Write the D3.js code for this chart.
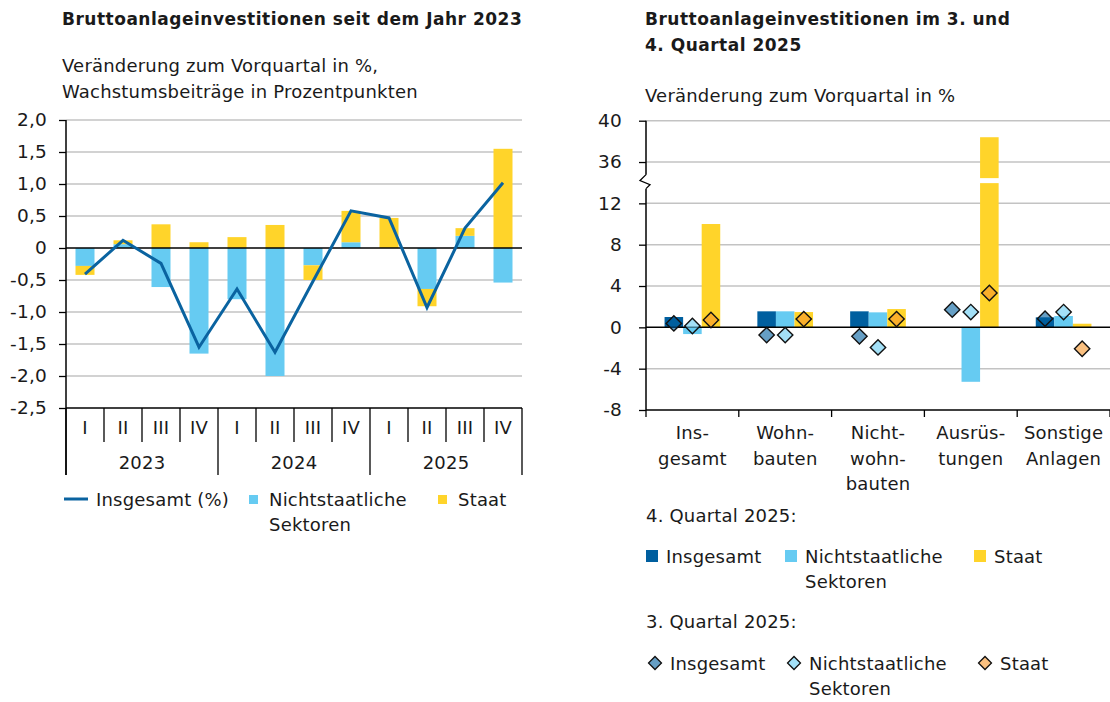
<!DOCTYPE html>
<html>
<head>
<meta charset="utf-8">
<script src="https://cdn.jsdelivr.net/npm/d3@7"></script>
<style>
  body { margin: 0; background: #fff; }
  text { font-family: "DejaVu Sans", sans-serif; fill: #1a1a1a; font-size: 18px; letter-spacing: 0.2px; }
  .title { font-weight: bold; font-size: 17px; letter-spacing: 0.5px; }
</style>
</head>
<body>
<svg id="chart" width="1110" height="702"></svg>
<script>
// ---- left chart: quarters 2023-2025 ----
var quarters = ["I", "II", "III", "IV", "I", "II", "III", "IV", "I", "II", "III", "IV"];
var years = ["2023", "2024", "2025"];
var insgesamt = [-0.41, 0.12, -0.24, -1.55, -0.64, -1.63, -0.52, 0.58, 0.47, -0.93, 0.31, 1.02];
var nichtstaatlich = [-0.28, 0.06, -0.61, -1.65, -0.80, -2.00, -0.27, 0.09, 0.00, -0.64, 0.19, -0.54];
var staat = [-0.14, 0.06, 0.37, 0.09, 0.17, 0.36, -0.23, 0.49, 0.47, -0.27, 0.12, 1.55];
var leftTicks = [-2.5, -2, -1.5, -1, -0.5, 0, 0.5, 1, 1.5, 2];

// ---- right chart: sectors, Q4 bars and Q3 diamonds ----
var sectors = [["Ins-", "gesamt"], ["Wohn-", "bauten"], ["Nicht-", "wohn-", "bauten"], ["Ausrüs-", "tungen"], ["Sonstige", "Anlagen"]];
var q4Insgesamt = [1.0, 1.55, 1.55, 0.0, 0.97];
var q4Nicht = [-0.65, 1.55, 1.45, -5.27, 1.1];
var q4Staat = [10.0, 1.48, 1.77, 38.4, 0.35];
var q3Insgesamt = [0.38, -0.75, -0.87, 1.71, 0.84];
var q3Nicht = [0.13, -0.75, -1.94, 1.48, 1.48];
var q3Staat = [0.71, 0.8, 0.8, 3.32, -2.07];
var rightTicks = [-8, -4, 0, 4, 8, 12, 36, 40];

var darkBlue = "#005f9f", lightBlue = "#66cbf2", yellow = "#ffd42a";
var lineBlue = "#0a63a0", grid = "#c3c3c3";

var svg = d3.select("#chart");

// ================= LEFT =================
var L = { x0: 66, x1: 522, top: 120, bottom: 408 };

var xL = d3.scaleBand()
    .domain(d3.range(quarters.length))
    .range([L.x0, L.x1])
    .paddingInner(0.5)
    .paddingOuter(0.25);
var yL = d3.scaleLinear().domain([-2.5, 2]).range([L.bottom, L.top]);

svg.append("text").attr("class", "title").attr("x", 62).attr("y", 25)
    .text("Bruttoanlageinvestitionen seit dem Jahr 2023");
svg.append("text").attr("x", 62).attr("y", 72).text("Veränderung zum Vorquartal in %,");
svg.append("text").attr("x", 62).attr("y", 98).text("Wachstumsbeiträge in Prozentpunkten");

var gl = svg.append("g");
gl.selectAll(".grid")
    .data(leftTicks.filter(function (d) { return d != 0 && d != -2.5; }))
    .enter().append("line")
    .attr("x1", L.x0).attr("x2", L.x1)
    .attr("y1", function (d) { return yL(d); })
    .attr("y2", function (d) { return yL(d); })
    .style("stroke", grid).style("stroke-width", 1.5);

// stacked contributions (positive and negative stacked separately)
var rows = quarters.map(function (q, i) { return { i: i, ns: nichtstaatlich[i], st: staat[i] }; });
var stack = d3.stack().keys(["ns", "st"]).offset(d3.stackOffsetDiverging)(rows);
var colL = { ns: lightBlue, st: yellow };

stack.forEach(function (layer) {
    gl.selectAll(".bar-" + layer.key)
        .data(layer)
        .enter().append("rect")
        .attr("x", function (d) { return xL(d.data.i); })
        .attr("width", xL.bandwidth())
        .attr("y", function (d) { return yL(Math.max(d[0], d[1])); })
        .attr("height", function (d) { return Math.abs(yL(d[0]) - yL(d[1])); })
        .style("fill", colL[layer.key]);
});

gl.append("line").attr("x1", L.x0).attr("x2", L.x1)
    .attr("y1", yL(0)).attr("y2", yL(0))
    .style("stroke", "#000").style("stroke-width", 1.5);

var line = d3.line()
    .x(function (d, i) { return xL(i) + xL.bandwidth() / 2; })
    .y(function (d) { return yL(d); });
gl.append("path").datum(insgesamt)
    .attr("d", line)
    .style("fill", "none").style("stroke", lineBlue).style("stroke-width", 3)
    .style("stroke-linejoin", "miter");

// y axis
var axL = gl.append("g").attr("transform", "translate(" + L.x0 + ",0)")
    .call(d3.axisLeft(yL).tickValues(leftTicks).tickSize(7).tickPadding(12)
        .tickFormat(function (d) { return d == 0 ? "0" : d3.format(".1f")(d).replace(".", ",").replace("−", "-"); }));
axL.select(".domain").remove();
axL.selectAll("text").style("font-size", "18.5px").style("font-family", "DejaVu Sans").attr("fill", "#1a1a1a");
axL.selectAll("line").style("stroke", "#000").style("stroke-width", 1.3);
gl.append("line").attr("x1", L.x0).attr("x2", L.x0).attr("y1", L.top).attr("y2", 475)
    .style("stroke", "#000").style("stroke-width", 1.5);
gl.append("line").attr("x1", L.x0).attr("x2", L.x1).attr("y1", L.bottom).attr("y2", L.bottom)
    .style("stroke", "#000").style("stroke-width", 1.5);

// quarter / year category axis
var step = xL.step();
gl.selectAll(".sep")
    .data(d3.range(quarters.length + 1))
    .enter().append("line")
    .attr("x1", function (i) { return L.x0 + i * step; })
    .attr("x2", function (i) { return L.x0 + i * step; })
    .attr("y1", L.bottom)
    .attr("y2", function (i) { return i % 4 == 0 ? 475 : 442; })
    .style("stroke", "#000").style("stroke-width", 1.3);
gl.selectAll(".qlab")
    .data(quarters)
    .enter().append("text")
    .attr("x", function (d, i) { return xL(i) + xL.bandwidth() / 2; })
    .attr("y", 434)
    .attr("text-anchor", "middle")
    .text(function (d) { return d; });
gl.selectAll(".ylab")
    .data(years)
    .enter().append("text")
    .attr("x", function (d, i) { return L.x0 + (i * 4 + 2) * step; })
    .attr("y", 469)
    .attr("text-anchor", "middle")
    .text(function (d) { return d; });

// legend
var lgL = svg.append("g");
lgL.append("line").attr("x1", 64).attr("x2", 88).attr("y1", 499).attr("y2", 499)
    .style("stroke", lineBlue).style("stroke-width", 3);
lgL.append("text").attr("x", 96).attr("y", 506).text("Insgesamt (%)");
lgL.append("rect").attr("x", 249).attr("y", 495).attr("width", 9).attr("height", 9).style("fill", lightBlue);
lgL.append("text").attr("x", 269).attr("y", 506).text("Nichtstaatliche");
lgL.append("text").attr("x", 269).attr("y", 531).text("Sektoren");
lgL.append("rect").attr("x", 438).attr("y", 495).attr("width", 9).attr("height", 9).style("fill", yellow);
lgL.append("text").attr("x", 458).attr("y", 506).text("Staat");

// ================= RIGHT =================
var R = { x0: 646, x1: 1110, top: 120.7, bottom: 410 };
var rStep = (R.bottom - R.top) / 7;

var x0R = d3.scaleBand().domain(d3.range(sectors.length)).range([R.x0, R.x1]);
var keys = ["ins", "ns", "st"];
var x1R = d3.scaleBand().domain(keys)
    .range([x0R.bandwidth() * 0.2, x0R.bandwidth() * 0.8]);
// broken axis: 12 .. 36 compressed into one grid step
var yR = d3.scaleLinear()
    .domain([-8, 12, 36, 40])
    .range([R.bottom, R.bottom - 5 * rStep, R.bottom - 6 * rStep, R.bottom - 7 * rStep]);
var yBreak = yR(12) - 0.55 * rStep;

svg.append("text").attr("class", "title").attr("x", 645).attr("y", 25)
    .text("Bruttoanlageinvestitionen im 3. und");
svg.append("text").attr("class", "title").attr("x", 645).attr("y", 51)
    .text("4. Quartal 2025");
svg.append("text").attr("x", 645).attr("y", 102).text("Veränderung zum Vorquartal in %");

var gr = svg.append("g");
gr.selectAll(".grid")
    .data(rightTicks.filter(function (d) { return d != 0 && d != -8; }))
    .enter().append("line")
    .attr("x1", R.x0).attr("x2", R.x1)
    .attr("y1", function (d) { return yR(d); })
    .attr("y2", function (d) { return yR(d); })
    .style("stroke", grid).style("stroke-width", 1.5);

var barRows = sectors.map(function (s, i) {
    return { i: i, ins: q4Insgesamt[i], ns: q4Nicht[i], st: q4Staat[i] };
});
var colBar = { ins: darkBlue, ns: lightBlue, st: yellow };
keys.forEach(function (k) {
    gr.selectAll(".b-" + k)
        .data(barRows)
        .enter().append("rect")
        .attr("x", function (d) { return x0R(d.i) + x1R(k); })
        .attr("width", x1R.bandwidth())
        .attr("y", function (d) { return yR(Math.max(0, d[k])); })
        .attr("height", function (d) { return Math.abs(yR(d[k]) - yR(0)); })
        .style("fill", colBar[k]);
});
// white gap where a bar crosses the axis break
gr.selectAll(".gap")
    .data(barRows.filter(function (d) { return d.st > 12; }))
    .enter().append("rect")
    .attr("x", function (d) { return x0R(d.i) + x1R("st") - 1; })
    .attr("width", x1R.bandwidth() + 2)
    .attr("y", yBreak - 2.5)
    .attr("height", 5)
    .style("fill", "#fff");

gr.append("line").attr("x1", R.x0).attr("x2", R.x1)
    .attr("y1", yR(0)).attr("y2", yR(0))
    .style("stroke", "#000").style("stroke-width", 1.5);

// Q3 diamonds
var dia = d3.symbol().type(d3.symbolSquare).size(118);
var diaCol = { ins: darkBlue, ns: lightBlue, st: "#f7962c" };
var q3 = { ins: q3Insgesamt, ns: q3Nicht, st: q3Staat };
keys.forEach(function (k) {
    gr.selectAll(".d-" + k)
        .data(q3[k])
        .enter().append("path")
        .attr("d", dia)
        .attr("transform", function (d, i) {
            return "translate(" + (x0R(i) + x1R(k) + x1R.bandwidth() / 2) + "," + yR(d) + ") rotate(45)";
        })
        .style("fill", diaCol[k]).style("fill-opacity", 0.6)
        .style("stroke", "#111").style("stroke-width", 1.4);
});

// y axis with break
var axR = gr.append("g").attr("transform", "translate(" + R.x0 + ",0)")
    .call(d3.axisLeft(yR).tickValues(rightTicks).tickSize(7).tickPadding(17)
        .tickFormat(function (d) { return String(d); }));
axR.select(".domain").remove();
axR.selectAll("text").style("font-size", "18.5px").style("font-family", "DejaVu Sans").attr("fill", "#1a1a1a");
axR.selectAll("line").style("stroke", "#000").style("stroke-width", 1.3);
gr.append("line").attr("x1", R.x0).attr("x2", R.x0).attr("y1", R.top).attr("y2", yBreak - 6)
    .style("stroke", "#000").style("stroke-width", 1.5);
gr.append("line").attr("x1", R.x0).attr("x2", R.x0).attr("y1", yBreak + 8).attr("y2", R.bottom)
    .style("stroke", "#000").style("stroke-width", 1.5);
gr.append("path")
    .attr("d", "M" + R.x0 + "," + (yBreak - 6) + "l-6,6l10,4l-4,4")
    .style("fill", "none").style("stroke", "#000").style("stroke-width", 1.3);

// x axis
gr.append("line").attr("x1", R.x0).attr("x2", R.x1).attr("y1", R.bottom).attr("y2", R.bottom)
    .style("stroke", "#000").style("stroke-width", 1.5);
gr.selectAll(".xt")
    .data(d3.range(sectors.length + 1))
    .enter().append("line")
    .attr("x1", function (i) { return R.x0 + i * x0R.step(); })
    .attr("x2", function (i) { return R.x0 + i * x0R.step(); })
    .attr("y1", R.bottom).attr("y2", R.bottom + 7)
    .style("stroke", "#000").style("stroke-width", 1.3);
var cl = gr.selectAll(".clab")
    .data(sectors)
    .enter().append("text")
    .attr("text-anchor", "middle")
    .attr("x", function (d, i) { return x0R(i) + x0R.bandwidth() / 2; })
    .attr("y", 439);
cl.selectAll("tspan")
    .data(function (d) { return d; })
    .enter().append("tspan")
    .attr("x", function () { return d3.select(this.parentNode).attr("x"); })
    .attr("dy", function (d, j) { return j == 0 ? 0 : 25.5; })
    .text(function (d) { return d; });

// legend
var lgR = svg.append("g");
lgR.append("text").attr("x", 646).attr("y", 522).text("4. Quartal 2025:");
var lgItems = [
    { k: "ins", label: ["Insgesamt"], x: 646 },
    { k: "ns", label: ["Nichtstaatliche", "Sektoren"], x: 785 },
    { k: "st", label: ["Staat"], x: 974 }
];
lgItems.forEach(function (it) {
    lgR.append("rect").attr("x", it.x).attr("y", 550).attr("width", 12).attr("height", 12)
        .style("fill", colBar[it.k]);
    it.label.forEach(function (t, j) {
        lgR.append("text").attr("x", it.x + 20).attr("y", 563 + j * 25).text(t);
    });
});
lgR.append("text").attr("x", 646).attr("y", 628).text("3. Quartal 2025:");
var dia2 = d3.symbol().type(d3.symbolSquare).size(84);
lgItems.forEach(function (it, n) {
    var cx = it.x + 7 + (n == 2 ? 4 : 2);
    lgR.append("path").attr("d", dia2)
        .attr("transform", "translate(" + cx + ",663) rotate(45)")
        .style("fill", diaCol[it.k]).style("fill-opacity", 0.6)
        .style("stroke", "#111").style("stroke-width", 1.3);
    it.label.forEach(function (t, j) {
        lgR.append("text").attr("x", cx + 15).attr("y", 670 + j * 25).text(t);
    });
});
</script>
</body>
</html>
